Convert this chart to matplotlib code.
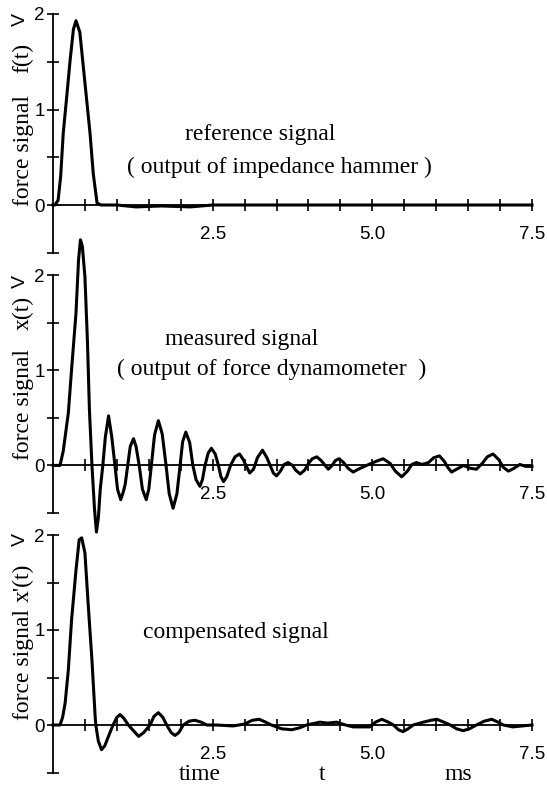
import numpy as np
import matplotlib
matplotlib.use("Agg")
import matplotlib.pyplot as plt
from matplotlib.ticker import FixedLocator, FixedFormatter

# ---------------- data ----------------
t_ref = [0, 0.03, 0.08, 0.12, 0.16, 0.21, 0.27, 0.32, 0.36, 0.42, 0.50, 0.58, 0.63,
         0.69, 0.75, 1.0, 1.3, 1.7, 2.15, 2.5, 3.0, 7.5]
f_ref = [0, 0, 0.05, 0.30, 0.75, 1.10, 1.53, 1.84, 1.93, 1.81, 1.28, 0.75, 0.33,
         0.02, 0, 0, -0.02, -0.01, -0.02, 0, 0, 0]

t_meas = [0, 0.11, 0.16, 0.20, 0.24, 0.29, 0.36, 0.40, 0.43, 0.46, 0.50, 0.54, 0.57,
          0.61, 0.65, 0.68, 0.71, 0.74, 0.78, 0.82, 0.87, 0.92, 0.97, 1.01, 1.06,
          1.10, 1.13, 1.17, 1.21, 1.26, 1.30, 1.35, 1.40, 1.46, 1.50, 1.54, 1.59,
          1.65, 1.71, 1.77, 1.82, 1.88, 1.94, 1.99, 2.03, 2.08, 2.14, 2.19, 2.24,
          2.30, 2.34, 2.38, 2.43, 2.48, 2.54, 2.59, 2.63, 2.67, 2.72, 2.78, 2.85,
          2.92, 2.98, 3.02, 3.08, 3.14, 3.20, 3.28, 3.35, 3.40, 3.45, 3.50, 3.56,
          3.62, 3.68, 3.75, 3.80, 3.87, 3.94, 4.00, 4.06, 4.13, 4.20, 4.26, 4.31,
          4.37, 4.42, 4.48, 4.55, 4.62, 4.70, 4.78, 4.91, 5.05, 5.17, 5.28, 5.36,
          5.46, 5.55, 5.62, 5.69, 5.78, 5.88, 5.96, 6.05, 6.13, 6.18, 6.24, 6.32,
          6.43, 6.53, 6.63, 6.72, 6.80, 6.89, 6.98, 7.05, 7.13, 7.22, 7.31, 7.40, 7.50]
x_meas = [0, 0, 0.15, 0.35, 0.55, 1.0, 1.6, 2.16, 2.37, 2.30, 1.98, 1.29, 0.59,
          0, -0.46, -0.70, -0.55, -0.25, 0, 0.30, 0.52, 0.30, 0, -0.25, -0.36,
          -0.28, -0.20, 0, 0.20, 0.28, 0.20, 0, -0.25, -0.36, -0.25, 0, 0.32,
          0.47, 0.33, 0, -0.30, -0.45, -0.30, 0, 0.25, 0.35, 0.24, 0, -0.15,
          -0.22, -0.15, 0, 0.13, 0.18, 0.12, 0, -0.12, -0.17, -0.12, 0, 0.09,
          0.12, 0.06, 0, -0.08, -0.04, 0.08, 0.16, 0.08, 0, -0.08, -0.11, -0.06,
          0.01, 0.03, 0, -0.05, -0.09, -0.05, 0.02, 0.07, 0.09, 0.05, 0, -0.04,
          0, 0.05, 0.07, 0.03, -0.03, -0.07, -0.04, 0, 0.04, 0.07, 0.02, -0.06,
          -0.12, -0.06, 0.01, 0.03, 0.01, 0.03, 0.08, 0.10, 0.04, -0.02, -0.07, -0.04,
          0, -0.03, -0.04, 0.02, 0.09, 0.12, 0.06, -0.02, -0.06, -0.03, 0.01, -0.01, -0.01]

t_comp = [0, 0.11, 0.15, 0.19, 0.24, 0.29, 0.36, 0.41, 0.45, 0.50, 0.55, 0.61, 0.66,
          0.67, 0.71, 0.76, 0.81, 0.88, 0.94, 1.00, 1.05, 1.11, 1.18, 1.26, 1.34,
          1.42, 1.52, 1.58, 1.65, 1.72, 1.78, 1.85, 1.91, 1.97, 2.04, 2.13, 2.22,
          2.32, 2.41, 2.56, 2.82, 3.00, 3.12, 3.23, 3.33, 3.42, 3.58, 3.74, 3.86,
          3.97, 4.18, 4.30, 4.44, 4.58, 4.70, 4.96, 5.05, 5.15, 5.25, 5.33, 5.41,
          5.48, 5.56, 5.64, 5.80, 5.92, 6.01, 6.12, 6.22, 6.32, 6.42, 6.52, 6.63,
          6.75, 6.87, 6.97, 7.05, 7.20, 7.35, 7.50]
x_comp = [0, 0, 0.08, 0.23, 0.58, 1.10, 1.63, 1.95, 1.97, 1.81, 1.28, 0.68, 0.09,
          0, -0.17, -0.26, -0.22, -0.10, 0, 0.08, 0.11, 0.07, 0, -0.06, -0.12,
          -0.08, 0, 0.09, 0.13, 0.08, 0, -0.08, -0.11, -0.08, 0, 0.04, 0.05,
          0.03, 0, 0, -0.01, 0.01, 0.05, 0.06, 0.03, 0, -0.04, -0.05, -0.03,
          0, 0.03, 0.02, 0.03, 0, -0.02, -0.02, 0.03, 0.06, 0.03, 0, -0.05,
          -0.07, -0.04, 0, 0.03, 0.05, 0.06, 0.03, 0, -0.04, -0.06, -0.04, 0,
          0.04, 0.06, 0.03, 0, -0.02, -0.01, 0]

x_major = [2.5, 5.0, 7.5]
x_major_labels = ["2.5", "5.0", "7.5"]
x_minor = [0.5, 1.0, 1.5, 2.0, 3.0, 3.5, 4.0, 4.5, 5.5, 6.0, 6.5, 7.0]
y_major = [0, 1, 2]
y_major_labels = ["0", "1", "2"]
y_minor = [-0.5, 0.5, 1.5]

panel_texts = [
    ["reference signal", "( output of impedance hammer )"],
    ["measured signal", "( output of force dynamometer  )"],
    ["compensated signal"],
]
signal_names = ["f(t)", "x(t)", "x'(t)"]

# ---------------- layout ----------------
W, H = 547, 786
fig = plt.figure(figsize=(W / 100, H / 100), dpi=100)
fig.patch.set_facecolor("white")

SERIF = "Liberation Serif"
SANS = "Liberation Sans"


def fx(px):
    return px / W


def fy(py):
    return 1 - py / H


# axes rectangles in pixels: (top at v=2, bottom at v=-0.5)
left_px, right_px = 53, 532
panels_px = [(14, 252.75), (275, 513), (535, 772.5)]

series = [(t_ref, f_ref), (t_meas, x_meas), (t_comp, x_comp)]

for i, ((top, bot), (tt, vv)) in enumerate(zip(panels_px, series)):
    ax = fig.add_axes([fx(left_px), fy(bot), fx(right_px) - fx(left_px), (bot - top) / H])
    ax.set_xlim(0, 7.5)
    ax.set_ylim(-0.5, 2)
    ax.patch.set_alpha(0)
    for s in ["top", "right"]:
        ax.spines[s].set_visible(False)
    ax.spines["bottom"].set_position(("data", 0))
    ax.spines["left"].set_linewidth(1.3)
    ax.spines["bottom"].set_linewidth(1.3)

    ax.xaxis.set_major_locator(FixedLocator(x_major))
    ax.xaxis.set_major_formatter(FixedFormatter(x_major_labels))
    ax.xaxis.set_minor_locator(FixedLocator(x_minor))
    ax.yaxis.set_major_locator(FixedLocator(y_major))
    ax.yaxis.set_major_formatter(FixedFormatter(y_major_labels))
    ax.yaxis.set_minor_locator(FixedLocator(y_minor))

    ax.tick_params(axis="x", which="both", direction="inout", length=8, width=1.2,
                   pad=11, labelsize=13.5)
    ax.tick_params(axis="y", which="both", direction="inout", length=8, width=1.2,
                   pad=2, labelsize=13.5)
    for lab in ax.get_xticklabels() + ax.get_yticklabels():
        lab.set_fontfamily(SANS)

    ax.plot(tt, vv, color="black", lw=2.2, clip_on=False, solid_joinstyle="round")

# ---------------- y labels ----------------
ylab_specs = [  # (force-signal centre y, name centre y, V centre y)
    (150, 58, 20),
    (405, 313, 281),
    (664, 583, 539),
]
for (fs_y, nm_y, v_y), nm in zip(ylab_specs, signal_names):
    fig.text(fx(23), fy(fs_y), "force signal", rotation=90, ha="center", va="center",
             family=SERIF, fontsize=17)
    fig.text(fx(23), fy(nm_y), nm, rotation=90, ha="center", va="center",
             family=SERIF, fontsize=17)
    fig.text(fx(20), fy(v_y), "V", rotation=90, ha="center", va="center",
             family=SANS, fontsize=14)

# ---------------- panel texts ----------------
text_pos = [
    [(185, 140), (127, 173)],
    [(165, 345), (117, 375)],
    [(143, 638)],
]
for lines, poss in zip(panel_texts, text_pos):
    for s, (px, py) in zip(lines, poss):
        fig.text(fx(px), fy(py), s, ha="left", va="baseline", family=SERIF, fontsize=17)

# ---------------- bottom axis title ----------------
fig.text(fx(200), fy(780), "time", ha="center", va="baseline", family=SERIF, fontsize=17)
fig.text(fx(322), fy(780), "t", ha="center", va="baseline", family=SERIF, fontsize=17)
fig.text(fx(458), fy(780), "ms", ha="center", va="baseline", family=SERIF, fontsize=17)

fig.savefig("out.png", dpi=100, facecolor="white")
